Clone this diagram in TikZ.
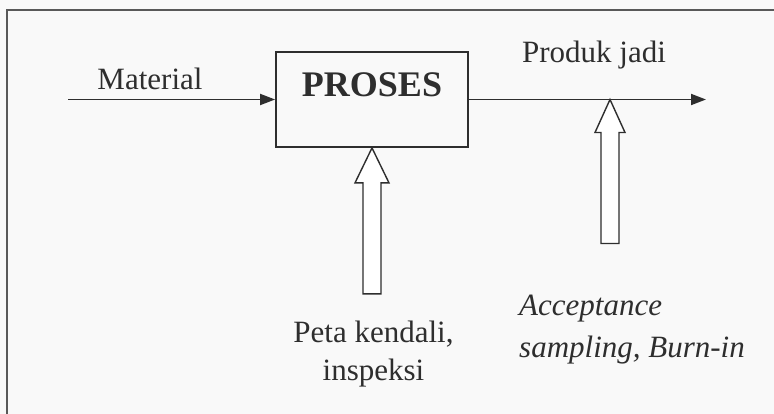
\documentclass[tikz,border=0pt]{standalone}
\usepackage{fontspec}
\setmainfont{Liberation Serif}
\usetikzlibrary{arrows.meta,calc}
\definecolor{inkc}{gray}{0.18}
\definecolor{framec}{gray}{0.35}
\definecolor{paperc}{gray}{0.975}
\tikzset{
  txt/.style={inner sep=0pt, text=inkc, font=\fontsize{31}{38}\selectfont},
  procbox/.style={draw=inkc, line width=1.8pt, minimum width=192pt, minimum height=95pt, inner sep=0pt},
  flow/.style={draw=inkc, line width=1.8pt, -{Triangle[length=15pt,width=11pt]}},
  hollow/.style={draw=inkc, line width=1.4pt, fill=white, line join=miter},
}
\begin{document}
\begin{tikzpicture}[x=1pt,y=-1pt]
\useasboundingbox (0,0) rectangle (774,414);
\fill[paperc] (0,0) rectangle (774,414);
\draw[framec, line width=2.6pt] (7,440) -- (7,10) -- (800,10);
% process box
\node[procbox] (proc) at (372,99.5) {};
\node[txt, font=\fontsize{36}{40}\selectfont\bfseries, anchor=base] (ptext) at (372,97) {PROSES};
% input
\coordinate (min) at (68,99.5);
\node[txt, anchor=base] (lmat) at (150,90) {Material};
\draw[flow] (min) -- (proc.west);
% output
\coordinate (out) at (706,99.5);
\draw[flow] (proc.east) -- (out);
\node[txt, anchor=base] (lout) at (594,63) {Produk jadi};
\coordinate (qa) at (610,99.5);
% hollow arrows
\draw[hollow] (proc.south) -- ++(17,35) -- ++(-8,0) -- ++(0,111) -- ++(-18,0) -- ++(0,-111) -- ++(-8,0) -- cycle;
\draw[hollow] (qa) -- ++(15,33) -- ++(-6,0) -- ++(0,111) -- ++(-18,0) -- ++(0,-111) -- ++(-6,0) -- cycle;
% labels
\node[txt, align=center, anchor=north] (lpeta) at (373.5,321) {Peta kendali,\\inspeksi};
\node[txt, align=left, anchor=north west, font=\fontsize{31}{42}\selectfont\itshape] (lacc) at (519,295) {Acceptance\\sampling, Burn-in};
\end{tikzpicture}
\end{document}
